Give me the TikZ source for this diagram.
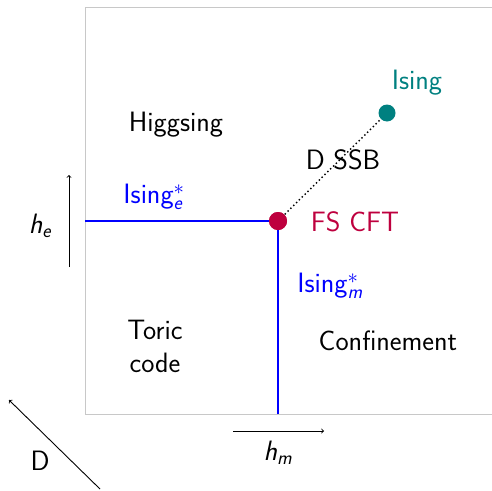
\documentclass[tikz,border=0pt]{standalone}
\usepackage{amsmath}
\usepackage{xcolor}
\definecolor{fsred}{RGB}{190,0,62}
\definecolor{isteal}{RGB}{0,128,128}
\definecolor{boxgray}{RGB}{200,200,200}
\newcommand{\sfit}[1]{\text{\sffamily\itshape #1}}
\begin{document}
\begin{tikzpicture}[x=1pt,y=-1pt,
  lbl/.style={font=\fontsize{28}{33}\selectfont\sffamily, inner sep=0pt},
  axisarrow/.style={-to, line width=0.9pt, black},
  phaseline/.style={line width=2pt, blue},
  dotnode/.style={circle, inner sep=0pt, minimum size=18pt}]
\useasboundingbox (0,0) rectangle (492,490);
\draw[boxgray, line width=1pt] (85,7) rectangle (492,414);
% nodes
\node[dotnode, fill=fsred] (fs) at (278,221) {};
\node[dotnode, fill=isteal, minimum size=17pt] (is) at (387,113) {};
\coordinate (left) at (85,221);
\coordinate (bottom) at (278,414);
\draw[phaseline] (left) -- (fs.center);
\draw[phaseline] (bottom) -- (fs.center);
\node[dotnode, fill=fsred] at (fs) {};
\draw[line width=2pt, dash pattern=on 0pt off 4pt, line cap=round, shorten <=1pt, shorten >=1pt] (fs) -- (is);
% labels
\node[lbl, text=isteal] (lis) at (417,83) {Ising};
\node[lbl] (lhig) at (176,125) {Higgsing};
\node[lbl] (ldssb) at (343,160) {D SSB};
\node[lbl, text=blue] (lise) at (154,197) {Ising$^{*}_{\sfit{e}}$};
\node[lbl, text=fsred] (lfs) at (355,222) {FS CFT};
\node[lbl, text=blue] (lism) at (330,286) {Ising$^{*}_{\sfit{m}}$};
\node[lbl, align=center] (ltor) at (155,346) {Toric\\code};
\node[lbl] (lconf) at (388,341) {Confinement};
\node[lbl] (lhe) at (40,226) {$\sfit{h}_{\sfit{e}}$};
\node[lbl] (lhm) at (278,453) {$\sfit{h}_{\sfit{m}}$};
\node[lbl] (lD) at (40,461) {D};
% axis arrows
\coordinate (ua) at (69,267); \coordinate (ub) at (69,175);
\draw[axisarrow] (ua) -- (ub);
\coordinate (ra) at (233,431); \coordinate (rb) at (324,431);
\draw[axisarrow] (ra) -- (rb);
\coordinate (da) at (100,489); \coordinate (db) at (9,400);
\draw[axisarrow] (da) -- (db);
\end{tikzpicture}
\end{document}
